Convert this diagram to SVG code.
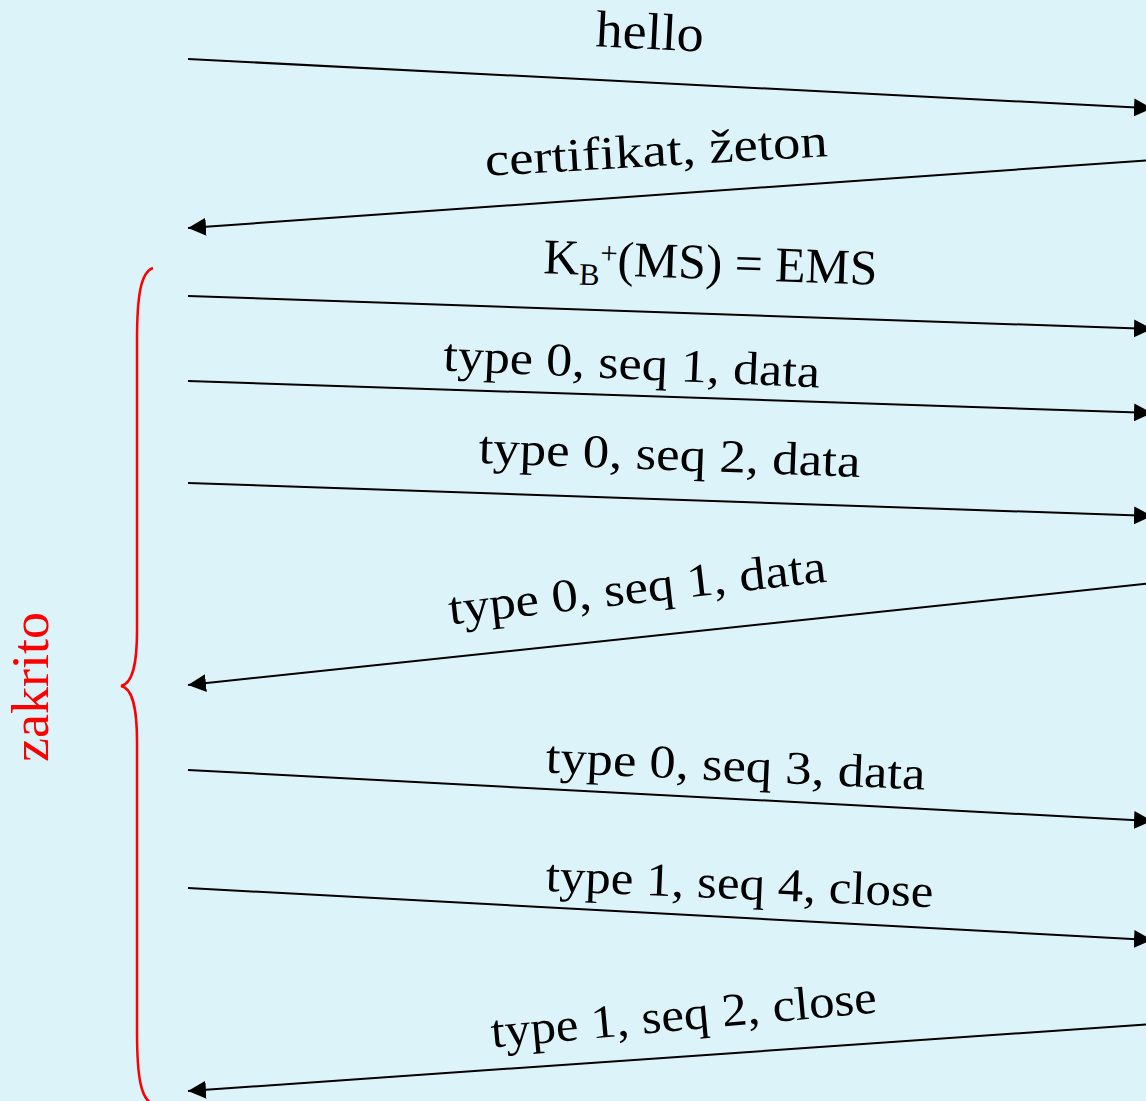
<svg xmlns="http://www.w3.org/2000/svg" width="1146" height="1101" viewBox="0 0 1146 1101">
<style>
.msg{stroke:#000;stroke-width:2;fill:none;marker-end:url(#ah)}
.lbl{font-family:"Liberation Serif","Times New Roman",serif;font-size:47px;fill:#000;text-anchor:middle}
.red{font-family:"Liberation Serif","Times New Roman",serif;font-size:52px;fill:#ff0000;text-anchor:middle}
</style>
<defs>
<marker id="ah" markerUnits="userSpaceOnUse" markerWidth="18" markerHeight="18" refX="18" refY="9" orient="auto" viewBox="0 0 18 18">
<path d="M0,0 L18,9 L0,18 z" fill="#000"/>
</marker>
</defs>
<rect width="1146" height="1101" fill="#dcf4f9"/>
<g id="connectors">
<line class="msg" x1="188" y1="59" x2="1152" y2="108.3"/>
<line class="msg" x1="1152" y1="160" x2="188" y2="228"/>
<line class="msg" x1="188" y1="296" x2="1152" y2="329"/>
<line class="msg" x1="188" y1="381" x2="1152" y2="413"/>
<line class="msg" x1="188" y1="483" x2="1152" y2="516"/>
<line class="msg" x1="1152" y1="583" x2="188" y2="685"/>
<line class="msg" x1="188" y1="770" x2="1152" y2="821"/>
<line class="msg" x1="188" y1="888" x2="1152" y2="940"/>
<line class="msg" x1="1152" y1="1024" x2="188" y2="1091"/>
</g>
<g id="labels">
<text class="lbl" style="font-size:52px" x="649" y="49" textLength="108" lengthAdjust="spacingAndGlyphs" transform="rotate(2.9 649 49)">hello</text>
<text class="lbl" x="657" y="166" textLength="343" lengthAdjust="spacingAndGlyphs" transform="rotate(-3.3 657 166)">certifikat, žeton</text>
<text class="lbl" style="font-size:50px" x="710" y="279" textLength="334" lengthAdjust="spacingAndGlyphs" transform="rotate(2 710 279)">K<tspan font-size="31" dy="10">B</tspan><tspan font-size="31" dy="-22">+</tspan><tspan dy="12">(MS) = EMS</tspan></text>
<text class="lbl" x="631" y="379" textLength="377" lengthAdjust="spacingAndGlyphs" transform="rotate(2.6 631 379)">type 0, seq 1, data</text>
<text class="lbl" x="669" y="470" textLength="382" lengthAdjust="spacingAndGlyphs" transform="rotate(2.1 669 470)">type 0, seq 2, data</text>
<text class="lbl" x="639" y="603" textLength="380" lengthAdjust="spacingAndGlyphs" transform="rotate(-6.5 639 603)">type 0, seq 1, data</text>
<text class="lbl" x="735" y="781" textLength="380" lengthAdjust="spacingAndGlyphs" transform="rotate(2.6 735 781)">type 0, seq 3, data</text>
<text class="lbl" x="739" y="899" textLength="388" lengthAdjust="spacingAndGlyphs" transform="rotate(2.4 739 899)">type 1, seq 4, close</text>
<text class="lbl" x="685" y="1030" textLength="387" lengthAdjust="spacingAndGlyphs" transform="rotate(-5.2 685 1030)">type 1, seq 2, close</text>
</g>
<g id="brace">
<path d="M153,268 C141,272 137,295 137,340 L137,630 C137,670 131,684 121,686 C131,688 137,702 137,742 L137,1032 C137,1077 141,1100 153,1104" fill="none" stroke="#ff0000" stroke-width="2.5"/>
<text class="red" x="48" y="687" textLength="150" lengthAdjust="spacingAndGlyphs" transform="rotate(-90 48 687)">zakrito</text>
</g>
</svg>
